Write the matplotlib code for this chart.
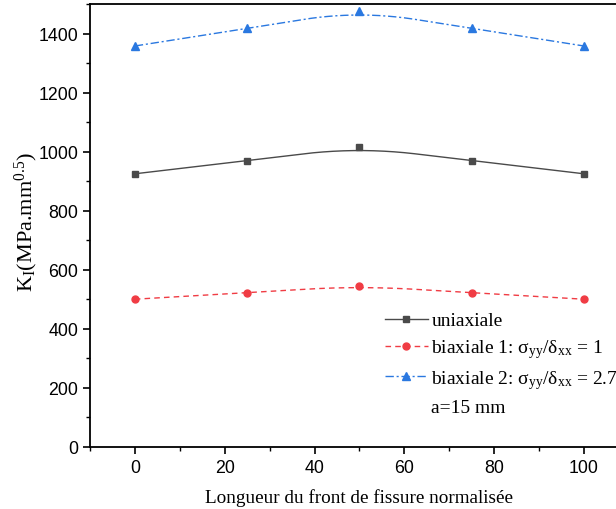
import numpy as np
import matplotlib.pyplot as plt
from matplotlib.ticker import MultipleLocator

plt.rcParams['font.family'] = ['Liberation Sans', 'DejaVu Sans']
plt.rcParams['mathtext.fontset'] = 'custom'
plt.rcParams['mathtext.rm'] = 'Liberation Serif'
plt.rcParams['mathtext.it'] = 'Liberation Serif:italic'

# normalised position along the crack front
position = [0, 25, 50, 75, 100]
k_uniaxiale = [925, 970, 1015, 970, 925]
k_biaxiale_1 = [500, 522, 545, 522, 500]
k_biaxiale_2 = [1358, 1418, 1478, 1418, 1358]


def bspline(xs, ys, n=200):
    # clamped quadratic B-spline through the control points (Origin style)
    pts = np.column_stack([xs, ys]).astype(float)
    k = 2
    m = len(pts)
    knots = np.concatenate([[0] * (k + 1), np.arange(1, m - k), [m - k] * (k + 1)]).astype(float)
    t = np.linspace(0, m - k, n)
    t[-1] -= 1e-9

    def basis(i, p, u):
        if p == 0:
            return ((knots[i] <= u) & (u < knots[i + 1])).astype(float)
        a = 0.0
        b = 0.0
        if knots[i + p] != knots[i]:
            a = (u - knots[i]) / (knots[i + p] - knots[i]) * basis(i, p - 1, u)
        if knots[i + p + 1] != knots[i + 1]:
            b = (knots[i + p + 1] - u) / (knots[i + p + 1] - knots[i + 1]) * basis(i + 1, p - 1, u)
        return a + b

    curve = sum(basis(i, k, t)[:, None] * pts[i] for i in range(m))
    return curve[:, 0], curve[:, 1]


fig = plt.figure(figsize=(6.16, 5.10), dpi=100)
ax = fig.add_axes([0.146, 0.122, 0.875, 0.868])

series = [
    (k_uniaxiale, '#4a4a4a', '-', 's', 4.5, 'uniaxiale'),
    (k_biaxiale_1, '#f03c44', (0, (4, 3)), 'o', 5, r'biaxiale 1: σ$_\mathrm{yy}$/δ$_\mathrm{xx}$ = 1'),
    (k_biaxiale_2, '#2a78e0', (0, (6, 2, 1.5, 2)), '^', 5.5, r'biaxiale 2: σ$_\mathrm{yy}$/δ$_\mathrm{xx}$ = 2.7'),
]
for vals, col, ls, mk, ms, lab in series:
    cx, cy = bspline(position, vals)
    ax.plot(cx, cy, color=col, ls=ls, lw=1.0)
    ax.plot(position, vals, ls='none', marker=mk, ms=ms, color=col)
    ax.plot([], [], color=col, ls=ls, lw=1.0, marker=mk, ms=ms, label=lab)
ax.plot([], [], ' ', label='a=15 mm')

ax.set_xlim(-10, 110)
ax.set_ylim(0, 1500)
ax.xaxis.set_major_locator(MultipleLocator(20))
ax.xaxis.set_minor_locator(MultipleLocator(10))
ax.yaxis.set_major_locator(MultipleLocator(200))
ax.yaxis.set_minor_locator(MultipleLocator(100))
ax.tick_params(which='major', direction='out', length=5, width=1.2, labelsize=12.8)
ax.tick_params(which='minor', direction='out', length=3, width=1.0)
for s in ax.spines.values():
    s.set_linewidth(1.3)

ax.set_xlabel('Longueur du front de fissure normalisée', family='Liberation Serif', fontsize=13.8, labelpad=9)
ax.set_ylabel(r'K$_\mathrm{I}$(MPa.mm$^\mathrm{0.5}$)', family='Liberation Serif', fontsize=16)
ax.yaxis.set_label_coords(-0.092, 0.51)

ax.legend(loc='upper left', bbox_to_anchor=(0.547, 0.305), frameon=False,
          prop={'family': 'Liberation Serif', 'size': 14}, handlelength=2.2,
          handletextpad=0.2, labelspacing=0.4, borderaxespad=0, borderpad=0)

fig.savefig('out.png', dpi=100)
